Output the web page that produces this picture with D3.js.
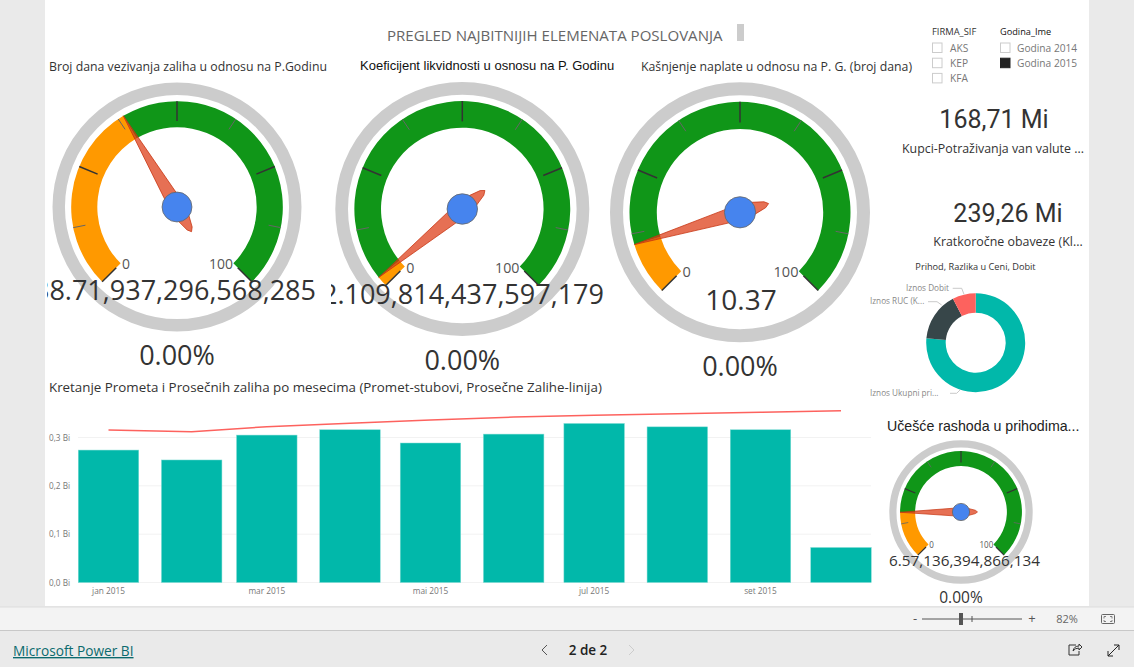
<!DOCTYPE html>
<html><head><meta charset="utf-8">
<script src="https://cdn.jsdelivr.net/npm/d3@7"></script>
<style>
html,body{margin:0;padding:0;background:#eaeaea;overflow:hidden}
svg{display:block}
text{font-family:"Open Sans",sans-serif}
</style></head><body>
<script>
// ---- data ----
const gaugeTitles = ["Broj dana vezivanja zaliha u odnosu na P.Godinu","Koeficijent likvidnosti u osnosu na P. Godinu","Kašnjenje naplate u odnosu na P. G. (broj dana)","Učešće rashoda u prihodima..."];
const gaugeValues = [38.71, 2.109, 10.37, 16.57];
const gaugeLabels = ["38.71,937,296,568,285","2.109,814,437,597,179","10.37","16.57,136,394,866,134"];
const gaugePercent = ["0.00%","0.00%","0.00%","0.00%"];
const majorTicks = [0,25,50,75,100];
const minorTicks = [12.5,37.5,62.5,87.5];
const months = ["2015-01-01","2015-02-01","2015-03-01","2015-04-01","2015-05-01","2015-06-01","2015-07-01","2015-08-01","2015-09-01","2015-10-01"];
const monthLabels = ["jan 2015","","mar 2015","","mai 2015","","jul 2015","","set 2015",""];
const prometValues = [0.274,0.2535,0.305,0.316,0.2886,0.307,0.329,0.322,0.316,0.0724];
const zaliheValues = [0.3155,0.312,0.3224,0.3294,0.3362,0.3424,0.346,0.3493,0.3522,0.3555];
const yTicks = [0,0.1,0.2,0.3];
const donutLabels = ["Iznos Ukupni pri...","Iznos RUC (K...","Iznos Dobit"];
const donutValues = [76.4,16.0,7.6];
const donutColors = ["#01B8AA","#374649","#FD625E"];
const firmaItems = ["AKS","KEP","KFA"];
const godinaItems = ["Godina 2014","Godina 2015"];
const godinaChecked = [false,true];

// ---- layout ----
const svg = d3.select("body").append("svg").attr("width",1134).attr("height",667);
const defs = svg.append("defs");
svg.append("rect").attr("x",45).attr("y",0).attr("width",1044).attr("height",606).attr("fill","#fff");

function txt(x,y,s,size,fill,anchor,family,extra){
  const t = svg.append("text").attr("x",x).attr("y",y).text(s).attr("font-size",size).attr("fill",fill).attr("text-anchor",anchor||"start");
  if(family) t.style("font-family",family);
  if(extra) extra(t);
  return t;
}
const ARIAL='"Liberation Sans",Arial,sans-serif';

// title
txt(387,41,"PREGLED NAJBITNIJIH ELEMENATA POSLOVANJA",15.05,"#666");
svg.append("rect").attr("x",737).attr("y",24).attr("width",7).attr("height",17).attr("fill","#ccc");

// gauge titles
txt(49,71,gaugeTitles[0],12.3,"#333");
txt(360,70,gaugeTitles[1],13,"#111","start",ARIAL);
txt(641,71,gaugeTitles[2],12.3,"#333");
txt(887,431,gaugeTitles[3],14.2,"#222","start",ARIAL);

// gauges
const gaugeCfg = [
 {cx:177,cy:207,R:124.5,valY:300,valX:316,anchor:"end",size:27,pctY:365,pctS:27,clip:47},
 {cx:462.3,cy:209,R:127,valY:304,valX:604,anchor:"end",size:27,pctY:370,pctS:27,clip:331},
 {cx:740,cy:212.3,R:130,valY:310,valX:741,anchor:"middle",size:28,pctY:376,pctS:27,clip:600},
 {cx:961,cy:512,R:71.7,valY:566,valX:1040,anchor:"end",size:15.3,pctY:603,pctS:15.5,clip:887}
];
const angle = d3.scaleLinear().domain([0,100]).range([-135,135]);
const toRad = d=>d*Math.PI/180;
gaugeCfg.forEach((c,i)=>{
  const g = svg.append("g").attr("transform",`translate(${c.cx},${c.cy})`);
  const R=c.R, v=gaugeValues[i];
  g.append("circle").attr("r",R*0.95).attr("fill","none").attr("stroke","#ccc").attr("stroke-width",R*0.10);
  const arc=d3.arc().innerRadius(R*0.64).outerRadius(R*0.85);
  g.append("path").attr("d",arc({startAngle:toRad(angle(0)),endAngle:toRad(angle(v))})).attr("fill","#FF9900");
  g.append("path").attr("d",arc({startAngle:toRad(angle(v)),endAngle:toRad(angle(100))})).attr("fill","#109618");
  const tick=(val,r0,r1,col,w)=>{
    const a=toRad(angle(val));
    g.append("line").attr("x1",Math.sin(a)*R*r0).attr("y1",-Math.cos(a)*R*r0)
     .attr("x2",Math.sin(a)*R*r1).attr("y2",-Math.cos(a)*R*r1)
     .attr("stroke",col).attr("stroke-width",w);
  };
  minorTicks.forEach(t=>tick(t,0.75,0.85,"#666",R>100?1:0.8));
  majorTicks.forEach(t=>tick(t,0.69,0.85,"#333",R>100?1.5:1.2));
  const fs=R*0.112;
  g.append("text").attr("x",-R*0.41).attr("y",R*0.5).attr("text-anchor","middle").attr("font-size",fs).attr("fill","#555").text(0);
  g.append("text").attr("x",R*0.45).attr("y",R*0.5).attr("text-anchor","end").attr("font-size",fs).attr("fill","#555").text(100);
  // needle
  const w=R*0.052;
  const needle=[[0,-R*0.85],[w,-R*0.12],[w*1.15,0],[w*0.95,R*0.1],[w*0.45,R*0.2],[0,R*0.23],[-w*0.45,R*0.2],[-w*0.95,R*0.1],[-w*1.15,0],[-w,-R*0.12]];
  g.append("path").attr("d",d3.line().curve(d3.curveLinearClosed)(needle))
   .attr("transform",`rotate(${angle(v)})`)
   .attr("fill","#dc3912").attr("fill-opacity",0.72).attr("stroke","#c63310").attr("stroke-width",0.7).attr("stroke-linejoin","round");
  g.append("circle").attr("r",R*0.12).attr("fill","#4684EE").attr("stroke","#666").attr("stroke-width",0.8);
  // texts
  const id="clip"+i;
  defs.append("clipPath").attr("id",id).append("rect").attr("x",c.clip).attr("y",0).attr("width",1134-c.clip).attr("height",667);
  const holder=svg.append("g").attr("clip-path",`url(#${id})`);
  holder.append("text").attr("x",c.valX).attr("y",c.valY).attr("text-anchor",c.anchor).attr("font-size",c.size).attr("fill","#333").text(gaugeLabels[i]);
  svg.append("text").attr("x",c.cx).attr("y",c.pctY).attr("text-anchor","middle").attr("font-size",c.pctS).attr("fill","#333").text(gaugePercent[i]);
});

// slicers
txt(932,35,"FIRMA_SIF",9.4,"#333");
txt(1000,35,"Godina_Ime",9.2,"#111");
firmaItems.forEach((s,i)=>{
  svg.append("rect").attr("x",932.5).attr("y",43+i*15.2).attr("width",9.5).attr("height",9.5).attr("fill","#fff").attr("stroke","#ccc");
  txt(950,52+i*15.2,s,10.2,"#777");
});
godinaItems.forEach((s,i)=>{
  svg.append("rect").attr("x",1000.5).attr("y",43+i*15.2).attr("width",9.5).attr("height",9.5).attr("fill",godinaChecked[i]?"#222":"#fff").attr("stroke",godinaChecked[i]?"#222":"#ccc");
  txt(1017,52+i*15.2,s,10.2,"#777");
});

// cards
txt(994,128,"168,71 Mi",25,"#333","middle","Roboto");
txt(993,152.5,"Kupci-Potraživanja van valute ...",12.4,"#333","middle");
txt(1008,222,"239,26 Mi",25,"#333","middle","Roboto");
txt(1008,245.5,"Kratkoročne obaveze (Kl...",12.4,"#333","middle");

// donut
txt(975.5,270,"Prihod, Razlika u Ceni, Dobit",9.2,"#333","middle");
const dg=svg.append("g").attr("transform","translate(975.7,342.7)");
const pie=d3.pie().sort(null)(donutValues);
dg.selectAll("path").data(pie).join("path").attr("d",d3.arc().innerRadius(30).outerRadius(49.5)).attr("fill",(d,i)=>donutColors[i]);
const donutLeader=[[[950,393.3],[956.7,393.3],[960,390]],[[928,301.7],[937,301.7],[941.7,305]],[[952.7,288.3],[961.7,288.3],[964,294.3]]];
donutLeader.forEach(p=>svg.append("path").attr("d",d3.line()(p)).attr("fill","none").attr("stroke","#bbb").attr("stroke-width",0.8));
txt(870,396,donutLabels[0],8.2,"#888");
txt(870,304,donutLabels[1],8.2,"#888");
txt(949,291,donutLabels[2],8.2,"#888","end");

// bar chart
txt(49,392,"Kretanje Prometa i Prosečnih zaliha po mesecima (Promet-stubovi, Prosečne Zalihe-linija)",13.35,"#333");
const parse=d3.utcParse("%Y-%m-%d");
const x=d3.scaleUtc().domain([parse(months[0]),parse(months[9])]).range([108.5,841]);
const y=d3.scaleLinear().domain([0,0.3]).range([582.5,437.5]);
const barW=60.5;
const grid=svg.append("g");
yTicks.forEach(t=>{
  grid.append("line").attr("x1",78).attr("x2",871).attr("y1",y(t)).attr("y2",y(t)).attr("stroke","#f2f2f2").attr("stroke-width",1);
  txt(70,y(t)+3,d3.format(".1f")(t).replace(".",",")+" Bi",8.2,"#777","end");
});
months.forEach((m,i)=>{
  svg.append("rect").attr("x",x(parse(m))-barW/2).attr("y",y(prometValues[i])).attr("width",barW).attr("height",y(0)-y(prometValues[i])).attr("fill","#01B8AA").attr("stroke","#7fdcd4").attr("stroke-width",0.5);
  if(monthLabels[i]) txt(x(parse(m)),594,monthLabels[i],8.3,"#777","middle");
});
svg.append("path").attr("d",d3.line().x((d,i)=>x(parse(months[i]))).y(d=>y(d))(zaliheValues)).attr("fill","none").attr("stroke","#FD625E").attr("stroke-width",1.5);

// bottom bars
svg.append("rect").attr("x",0).attr("y",607).attr("width",1134).attr("height",24).attr("fill","#f3f3f3");
svg.append("line").attr("x1",0).attr("x2",1134).attr("y1",607).attr("y2",607).attr("stroke","#ddd");
svg.append("line").attr("x1",0).attr("x2",1134).attr("y1",630.5).attr("y2",630.5).attr("stroke","#c8c8c8");
txt(915,623,"-",13,"#555","middle");
svg.append("line").attr("x1",922).attr("x2",1022).attr("y1",619).attr("y2",619).attr("stroke","#555");
svg.append("line").attr("x1",972).attr("x2",972).attr("y1",616).attr("y2",622).attr("stroke","#555");
svg.append("rect").attr("x",959).attr("y",613).attr("width",4).attr("height",12).attr("fill","#555");
txt(1032,623,"+",13,"#555","middle");
txt(1067,623,"82%",11,"#666","middle");
svg.append("rect").attr("x",1101.5).attr("y",614.5).attr("width",13).attr("height",9).attr("rx",1).attr("fill","none").attr("stroke","#666");
svg.append("path").attr("d","M1104,618.5 V616.5 H1106 M1110,616.5 H1112 V618.5 M1112,620 V621.5 H1110 M1106,621.5 H1104 V620").attr("fill","none").attr("stroke","#666").attr("stroke-width",0.8);
txt(13,656,"Microsoft Power BI",13.7,"#0b6a6e","start",null,t=>t.style("text-decoration","underline"));
txt(588,655,"2 de 2",13.5,"#222","middle",null,t=>t.attr("font-weight",600));
svg.append("path").attr("d","M547,645 L542,650 L547,655").attr("fill","none").attr("stroke","#555");
svg.append("path").attr("d","M629,645 L634,650 L629,655").attr("fill","none").attr("stroke","#ccc");
svg.append("path").attr("d","M1076,645 H1069 V655 H1079 V651 M1073,651 Q1074,646 1079,646 V644 L1082,647 L1079,650 V648 Q1075,648 1073,651").attr("fill","none").attr("stroke","#333");
svg.append("path").attr("d","M1108,656 L1119,645 M1114,645 H1119 V650 M1108,651 V656 H1113").attr("fill","none").attr("stroke","#222");
</script>
</body></html>
